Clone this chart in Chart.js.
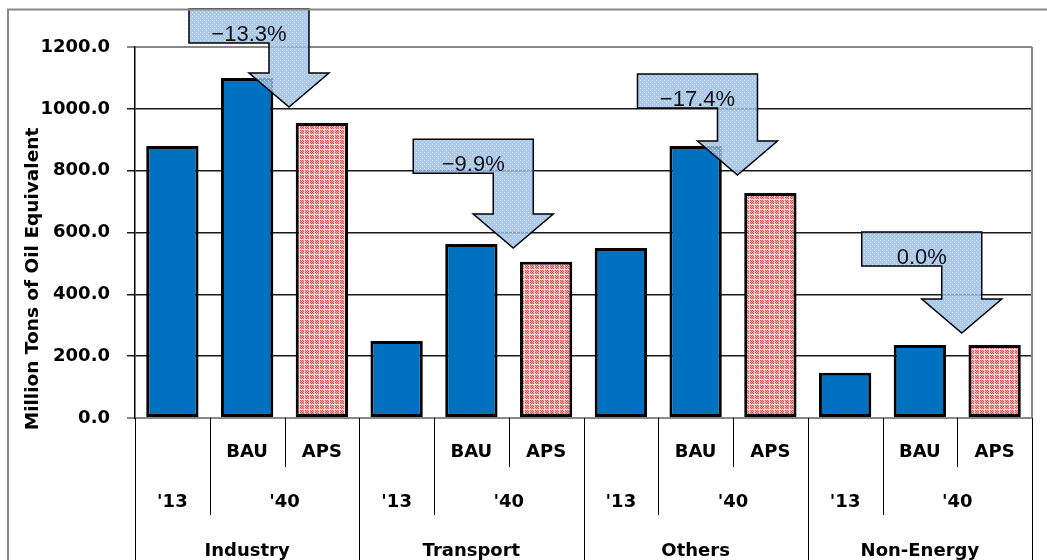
<!DOCTYPE html>
<html>
<head>
<meta charset="utf-8">
<script src="https://cdn.jsdelivr.net/npm/chart.js@4.4.1/dist/chart.umd.min.js"></script>
<style>
  html, body { margin: 0; padding: 0; background: #fff; }
  #wrap { width: 1047px; height: 560px; }
</style>
</head>
<body>
<div id="wrap"><canvas id="chart"></canvas></div>
<script>
const groups = ['Industry', 'Transport', 'Others', 'Non-Energy'];
const years = ["'13", "'40"];
const scenarios = ['BAU', 'APS'];
const labels = [
  "Industry '13", 'Industry BAU', 'Industry APS',
  "Transport '13", 'Transport BAU', 'Transport APS',
  "Others '13", 'Others BAU', 'Others APS',
  "Non-Energy '13", 'Non-Energy BAU', 'Non-Energy APS'
];
const values = [880, 1100, 954, 249, 563, 505, 550, 880, 728, 146, 236, 236];
const changeLabels = ['\u221213.3%', '\u22129.9%', '\u221217.4%', '0.0%'];
const arrowTips = [1006, 550, 786, 275];
const arrowTops = [1323, 902, 1113, 602];
const yMax = 1200;
const yStep = 200;

const BOLD = 'bold 18px "DejaVu Sans"';

const canvas = document.getElementById('chart');
const ctx = canvas.getContext('2d');

// red/pink checker with a light grid, like the office "dotted" fill
function apsPattern() {
  const c = document.createElement('canvas');
  c.width = 5; c.height = 5;
  const x = c.getContext('2d');
  x.fillStyle = '#F8DADA';
  x.fillRect(0, 0, 5, 5);
  for (let i = 0; i < 4; i++) {
    for (let j = 0; j < 4; j++) {
      x.fillStyle = (i + j) % 2 ? '#F2A6A6' : '#E05252';
      x.fillRect(i, j, 1, 1);
    }
  }
  return ctx.createPattern(c, 'repeat');
}

function arrowPattern() {
  const c = document.createElement('canvas');
  c.width = 4; c.height = 4;
  const x = c.getContext('2d');
  x.fillStyle = 'rgba(152,188,236,0.82)';
  x.fillRect(0, 0, 4, 4);
  x.fillStyle = 'rgba(215,230,250,0.85)';
  x.fillRect(0, 0, 1, 1);
  x.fillRect(2, 2, 1, 1);
  return ctx.createPattern(c, 'repeat');
}

const blue = '#0070C0';
const apsFill = apsPattern();
const arrowFill = arrowPattern();

const colors = labels.map(l => l.endsWith('APS') ? apsFill : blue);

// multi-level category axis, borders, y title
const categoryAxis = {
  id: 'categoryAxis',
  afterDraw(chart) {
    const c = chart.ctx;
    const x = chart.scales.x;
    const area = chart.chartArea;
    const half = (x.getPixelForValue(1) - x.getPixelForValue(0)) / 2;
    const edge = i => x.getPixelForValue(i) - half;
    const bottom = chart.height;
    c.save();
    c.strokeStyle = '#000';
    c.lineWidth = 1;
    c.fillStyle = '#000';
    c.font = BOLD;
    c.textAlign = 'center';
    c.textBaseline = 'alphabetic';
    groups.forEach((g, gi) => {
      const i0 = gi * 3;
      const lines = [[edge(i0), bottom], [edge(i0 + 1), 515], [edge(i0 + 2), 467]];
      lines.forEach(([lx, ly]) => {
        c.beginPath();
        c.moveTo(Math.round(lx) + 0.5, area.bottom);
        c.lineTo(Math.round(lx) + 0.5, ly);
        c.stroke();
      });
      c.fillText(scenarios[0], x.getPixelForValue(i0 + 1), 457);
      c.fillText(scenarios[1], x.getPixelForValue(i0 + 2), 457);
      c.fillText(years[0], x.getPixelForValue(i0), 507);
      c.fillText(years[1], edge(i0 + 2), 507);
      c.fillText(g, x.getPixelForValue(i0 + 1), 556);
    });
    c.beginPath();
    c.moveTo(Math.round(edge(12)) + 0.5, area.bottom);
    c.lineTo(Math.round(edge(12)) + 0.5, bottom);
    c.stroke();

    // plot right border and outer frame
    c.strokeStyle = '#888';
    c.lineWidth = 2;
    c.beginPath();
    c.moveTo(area.right, area.top);
    c.lineTo(area.right, area.bottom);
    c.stroke();
    c.beginPath();
    c.moveTo(8, bottom);
    c.lineTo(8, 9.5);
    c.lineTo(chart.width, 9.5);
    c.stroke();

    // y title
    c.translate(33, 279);
    c.rotate(-Math.PI / 2);
    c.font = 'bold 18.5px "DejaVu Sans"';
    c.textBaseline = 'middle';
    c.fillText('Million Tons of Oil Equivalent', 0, 0);
    c.restore();
  }
};

// change arrows
const changeArrows = {
  id: 'changeArrows',
  afterDatasetsDraw(chart) {
    const c = chart.ctx;
    const x = chart.scales.x;
    const y = chart.scales.y;
    c.save();
    changeLabels.forEach((txt, gi) => {
      const tx = x.getPixelForValue(gi * 3 + 1.56);
      const ty = y.getPixelForValue(arrowTips[gi]);
      const top = y.getPixelForValue(arrowTops[gi]);
      const boxB = top + 34;
      const headY = ty - 34;
      c.beginPath();
      c.moveTo(tx - 100, top);
      c.lineTo(tx + 20, top);
      c.lineTo(tx + 20, headY);
      c.lineTo(tx + 40, headY);
      c.lineTo(tx, ty);
      c.lineTo(tx - 40, headY);
      c.lineTo(tx - 20, headY);
      c.lineTo(tx - 20, boxB);
      c.lineTo(tx - 100, boxB);
      c.closePath();
      c.fillStyle = arrowFill;
      c.fill();
      c.strokeStyle = '#000';
      c.lineWidth = 1.5;
      c.stroke();
      c.fillStyle = '#111';
      c.font = '22px "Liberation Sans"';
      c.textAlign = 'center';
      c.textBaseline = 'alphabetic';
      c.fillText(txt, tx - 40, boxB - 2);
    });
    c.restore();
  }
};

new Chart(ctx, {
  type: 'bar',
  data: {
    labels: labels,
    datasets: [{
      data: values,
      backgroundColor: colors,
      borderColor: '#000',
      borderWidth: 3,
      borderSkipped: false,
      barPercentage: 0.7,
      categoryPercentage: 1.0
    }]
  },
  options: {
    animation: false,
    responsive: true,
    maintainAspectRatio: false,
    devicePixelRatio: 1,
    layout: { padding: { left: 0, right: 15, top: 47, bottom: 142 } },
    plugins: {
      legend: { display: false },
      tooltip: { enabled: false }
    },
    scales: {
      x: { display: false },
      y: {
        min: 0,
        max: yMax,
        ticks: {
          stepSize: yStep,
          color: '#000',
          font: { family: 'DejaVu Sans', size: 18, weight: 'bold' },
          padding: 17,
          callback: v => v.toFixed(1)
        },
        grid: {
          color: c => (c.tick && (c.tick.value === 0 || c.tick.value === yMax)) ? '#888' : '#1a1a1a',
          lineWidth: c => (c.tick && (c.tick.value === 0 || c.tick.value === yMax)) ? 2 : 1.5,
          tickLength: 8,
          drawTicks: true
        },
        border: { color: '#000', width: 1.5 },
        afterFit(scale) {
          scale.width = 135;
          scale.paddingTop = 0;
          scale.paddingBottom = 0;
        }
      }
    }
  },
  plugins: [changeArrows, categoryAxis]
});
</script>
</body>
</html>
